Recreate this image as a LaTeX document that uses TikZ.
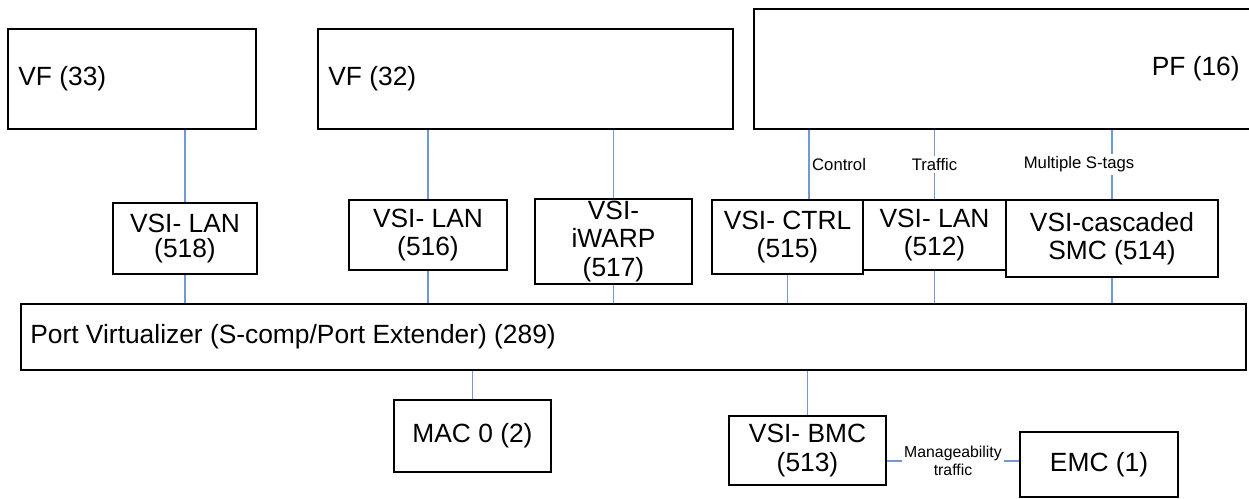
\documentclass[tikz,border=0pt]{standalone}
\usepackage{fontspec}
\setmainfont{Liberation Sans}
\usepackage{xcolor}
\usepackage{tikz}
\usetikzlibrary{positioning, calc}

\definecolor{linkblue}{RGB}{110,155,215}

\begin{document}
\begin{tikzpicture}[
    box/.style={draw=black, fill=white, line width=0.9pt, minimum width=3.14cm, minimum height=1.4cm, align=center, inner sep=1pt, font=\fontsize{15}{16}\selectfont},
    func/.style={box, minimum height=2cm},
    txt/.style={inner sep=0pt, font=\fontsize{15}{16}\selectfont},
    lbl/.style={inner sep=1.5pt, font=\fontsize{9.5}{11}\selectfont},
    link/.style={draw=linkblue, line width=0.6pt},
]
\useasboundingbox (0,0) rectangle (24.98,9.96);

% Functions (VF / PF)
\node[func, minimum width=4.96cm] (vf33) at (2.64,8.38) {};
\node[txt, anchor=west] (vf33txt) at (0.36,8.38) {VF (33)};
\node[func, minimum width=8.30cm] (vf32) at (10.51,8.38) {};
\node[txt, anchor=west] (vf32txt) at (6.56,8.38) {VF (32)};
\node[func, minimum width=10.4cm, minimum height=2.4cm] (pf) at (20.28,8.58) {};
\node[txt, anchor=east] (pftxt) at (24.8,8.58) {PF (16)};

% VSIs
\node[box, minimum width=2.88cm, minimum height=1.42cm] (lan518) at (3.70,5.19) {VSI- LAN\\[-1.5pt](518)};
\node[box, minimum width=3.16cm] (lan516) at (8.56,5.26) {VSI- LAN\\(516)};
\node[box, minimum width=3.14cm, minimum height=1.70cm] (iwarp) at (12.27,5.13) {VSI-\\iWARP\\(517)};
\node[box, minimum width=3.02cm, minimum height=1.48cm] (ctrl) at (15.75,5.22) {VSI- CTRL\\(515)};
\node[box, minimum width=2.86cm] (lan512) at (18.69,5.26) {VSI- LAN\\(512)};
\node[box, minimum width=4.24cm, minimum height=1.54cm] (smc) at (22.24,5.19) {VSI-cascaded\\SMC (514)};

% Port Virtualizer
\node[box, minimum width=24.5cm, minimum height=1.32cm] (port) at (12.67,3.22) {};
\node[txt, anchor=west] (porttxt) at (0.60,3.22) {Port Virtualizer (S-comp/Port Extender) (289)};

% MAC and manageability
\node[box, minimum width=3.14cm, minimum height=1.44cm] (mac) at (9.45,1.24) {MAC 0 (2)};
\node[box, minimum width=3.14cm, minimum height=1.38cm] (bmc) at (16.15,0.95) {VSI- BMC\\(513)};
\node[box, minimum width=3.16cm, minimum height=1.30cm] (emc) at (21.98,0.67) {EMC (1)};
\coordinate (mgmt) at (0,0.74);

% Links up
\draw[link] (lan518.north |- vf33.south) -- (lan518.north);
\draw[link] (lan516.north |- vf32.south) -- (lan516.north);
\draw[link] (iwarp.north |- vf32.south) -- (iwarp.north);
\draw[link] ([xshift=4.3mm]ctrl.north |- pf.south) -- ([xshift=4.3mm]ctrl.north) node[midway, right, lbl] {Control};
\draw[link] (lan512.north |- pf.south) -- (lan512.north) node[midway, fill=white, lbl] {Traffic};
\draw[link] (smc.north |- pf.south) -- (smc.north) node[midway, xshift=-6.6mm, fill=white, lbl] {Multiple S-tags};

% Links down
\draw[link] (lan518.south) -- (lan518.south |- port.north);
\draw[link] (lan516.south) -- (lan516.south |- port.north);
\draw[link] (iwarp.south) -- (iwarp.south |- port.north);
\draw[link] (ctrl.south) -- (ctrl.south |- port.north);
\draw[link] (lan512.south) -- (lan512.south |- port.north);
\draw[link] (smc.south) -- (smc.south |- port.north);
\draw[link] (mac.north |- port.south) -- (mac.north);
\draw[link] (bmc.north |- port.south) -- (bmc.north);
\draw[link] (bmc.east |- mgmt) -- (emc.west |- mgmt) node[midway, fill=white, align=center, lbl, font=\fontsize{9}{10}\selectfont] {Manageability\\traffic};

\end{tikzpicture}
\end{document}
